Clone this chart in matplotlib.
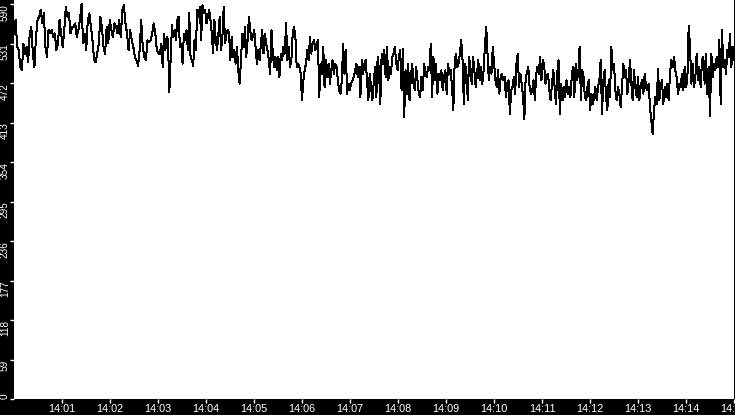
import numpy as np
import matplotlib
matplotlib.use("Agg")
import matplotlib.pyplot as plt

# Values, split in five consecutive time windows
seg1 = [546,566,526,521,496,491,531,516,526,503,546,556,516,496,541,566,571,581,561,576,
        526,511,551,546,551,541,546,521,531,566,546,526,551,586,571,576,546,556,556,561,
        541,551,566,590,531,546,521,566,576,556,536,506,503,516,531,571,556,526,516,556,
        531,566,551,541,561,556,546,566,541,581,588,561,546,521,551,536,526,511,506,498,
        521,566,526,511,506,536,533,536,546,561,546,521,516]
seg2 = [516,531,496,546,521,541,536,458,506,558,541,551,536,566,571,526,531,501,546,536,
        551,521,576,511,506,498,536,521,581,571,586,536,588,576,581,561,571,581,566,546,
        516,566,536,521,546,571,521,541,586,531,546,551,548,506,541,511,521,501,526,491,
        471,506,546,526,556,511,536,571,551,536,541,551,526,501,521,506,531,551,516,546,
        531,521,506,486,551,516,496,511,491,511,481,516,506,526,516,561,506,526,496,506,
        546,556,541,496,501,496,486,446,476,491]
seg3 = [501,521,506,541,516,531,536,521,531,536,451,501,486,526,466,506,481,501,471,491,
        506,486,501,496,476,461,456,476,531,486,521,456,471,461,471,476,481,491,501,481,
        496,451,506,486,501,506,476,446,486,466,446,471,496,451,511,491,441,516,501,521,
        481,526,476,496,486,511,516,526,501,491,511,521,461,523,421,491,456,501,446,481,
        501,471,461,496,476,456,451,481,461,501,486,481,496,491,531,451,511,476,501,456,
        486,476,491,461,481,491,456,501,486,491]
seg4 = [466,431,501,516,496,501,516,536,506,441,501,486,446,511,491,471,511,491,466,486,
        506,476,496,471,491,526,556,516,476,496,486,526,501,476,466,491,456,481,486,476,
        481,451,471,476,426,461,466,481,456,501,516,466,486,471,451,418,481,486,496,466,
        456,461,476,446,486,496,486,511,476,506,501,471,481,486,461,446,471,491,466,441,
        486,506,426,471,446,466,451,476,456,466,451,481,496,451,501,476,486,526,446,491,
        481,451,446,466,476,431,456,441,451,466,446]
seg5 = [466,476,506,426,476,491,451,431,476,451,526,491,501,461,446,466,456,436,466,501,
        481,491,456,476,506,471,446,491,466,451,481,446,466,476,456,486,466,461,471,436,
        416,396,431,451,441,493,446,466,476,441,466,451,471,446,486,506,496,511,491,481,
        456,471,466,486,461,496,466,476,558,526,471,501,466,481,516,476,496,466,506,511,
        471,516,456,496,423,516,481,501,491,511,496,536,441,551,496,506,486,521,511,546,
        496,526,506]
segments = [seg1, seg2, seg3, seg4, seg5]
# window edges in minutes after 14:00
seg_edges = [0.0, 3.042, 6.083, 9.125, 12.167, 15.0]

y_ticks = [0, 59, 118, 177, 236, 295, 354, 413, 472, 531, 590]
x_ticks = list(range(1, 16))
x_labels = ["14:%02d" % m for m in x_ticks]

t_all, v_all = [], []
for i, seg in enumerate(segments):
    last = (i == len(segments) - 1)
    t = np.linspace(seg_edges[i], seg_edges[i + 1], len(seg), endpoint=last)
    t_all.extend(t)
    v_all.extend(seg)

W, H = 735, 415
fig = plt.figure(figsize=(W / 100, H / 100), dpi=100, facecolor="black")
ax = fig.add_axes([14 / W, 16 / H, 720 / W, 399 / H], facecolor="white")
ax.plot(t_all, v_all, color="black", lw=0.72, antialiased=False)

ax.set_xlim(0, 15)
ax.set_ylim(0, 596)
for s in ax.spines.values():
    s.set_visible(False)

ax.set_xticks(x_ticks)
ax.set_xticklabels(x_labels)
ax.set_yticks(y_ticks)
ax.set_yticklabels([str(v) for v in y_ticks])
ax.tick_params(axis="x", colors="white", length=3, width=1, pad=0.5, labelsize=7.8)
ax.tick_params(axis="y", colors="white", length=3, width=1, pad=0, labelsize=7.2)
for lab in ax.get_xticklabels() + ax.get_yticklabels():
    lab.set_family("Liberation Sans")
for lab in ax.get_yticklabels():
    lab.set_rotation(90)
    lab.set_va("top")
    lab.set_ha("right")
ax.get_yticklabels()[0].set_va("bottom")

fig.savefig("out.png", dpi=100, facecolor="black")
